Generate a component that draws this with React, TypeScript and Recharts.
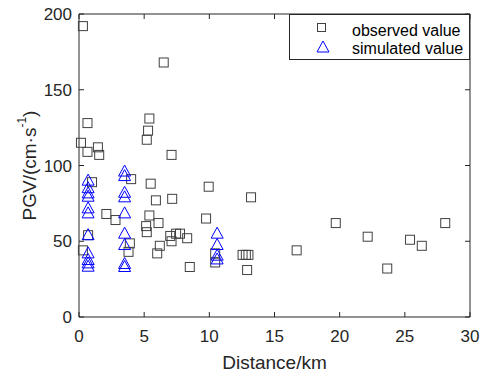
import React from 'react';
import { ScatterChart, Scatter, XAxis, YAxis, Legend, Label, ReferenceLine } from 'recharts';

// observed PGV (squares)
const observedDistance = [
  0.3, 0.15, 0.65, 0.65, 1.45, 1.55, 1.0, 0.7, 0.3, 2.1, 2.8, 4.0, 3.9, 3.8,
  5.2, 5.3, 5.4, 5.5, 5.4, 5.15, 5.2, 5.9, 6.1, 6.2, 6.0, 6.5, 7.1, 7.15, 7.0,
  7.1, 7.45, 7.75, 8.3, 8.5, 9.75, 9.95, 10.45, 10.45, 12.55, 12.8, 13.0, 12.9,
  13.2, 16.7, 19.7, 22.15, 23.65, 25.4, 26.3, 28.1,
];
const observedPGV = [
  192, 115, 128, 109, 112, 107, 89, 54, 44, 68, 64, 91, 48.6, 43,
  117, 123, 131, 88, 67, 60, 56, 77, 62, 47, 42, 168, 107, 78, 53.5,
  50, 55, 55, 52, 33, 65, 86, 42, 36, 41, 41, 41, 31,
  79, 44, 62, 53, 32, 51, 47, 62,
];

// simulated PGV (triangles)
const simulatedDistance = [
  0.7, 0.7, 0.7, 0.7, 0.7, 0.7, 0.7, 0.7, 0.7, 0.7, 0.7,
  3.5, 3.5, 3.5, 3.5, 3.5, 3.5, 3.5, 3.5, 3.5,
  10.6, 10.6, 10.6, 10.6,
];
const simulatedPGV = [
  90, 85, 81.6, 79.4, 71.7, 68.4, 54, 42, 37.6, 35.4, 33.2,
  96, 93, 82, 79, 68.4, 55, 47.5, 35, 33,
  55, 47.5, 40.5, 38,
];

const xTicks = [0, 5, 10, 15, 20, 25, 30];
const yTicks = [0, 50, 100, 150, 200];

const observed = observedDistance.map((x, i) => ({ x, y: observedPGV[i] }));
const simulated = simulatedDistance.map((x, i) => ({ x, y: simulatedPGV[i] }));

const FONT = '"Liberation Sans", Arial, Helvetica, sans-serif';
const AXIS = '#262626';
const TICK_LEN = 5;

const SquareDot = (props: any) => {
  const { cx, cy } = props;
  return (
    <rect x={cx - 4.5} y={cy - 4.5} width={9} height={9} fill="none" stroke="#404040" strokeWidth={1} />
  );
};

const TriangleDot = (props: any) => {
  const { cx, cy } = props;
  return (
    <polygon
      points={`${cx},${cy - 6.5} ${cx - 6},${cy + 4.5} ${cx + 6},${cy + 4.5}`}
      fill="none"
      stroke="#0000ff"
      strokeWidth={1}
    />
  );
};

// short inward tick marks at both ends of a reference line (MATLAB-style box ticks)
const EndTicks = (props: any) => {
  const { x1, y1, x2, y2 } = props;
  const len = Math.hypot(x2 - x1, y2 - y1) || 1;
  const dx = ((x2 - x1) / len) * TICK_LEN;
  const dy = ((y2 - y1) / len) * TICK_LEN;
  return (
    <g stroke={AXIS} strokeWidth={1}>
      <line x1={x1} y1={y1} x2={x1 + dx} y2={y1 + dy} />
      <line x1={x2} y1={y2} x2={x2 - dx} y2={y2 - dy} />
    </g>
  );
};

const renderYLabel = (props: any) => {
  const { viewBox } = props;
  const cx = viewBox.x + 29;
  const cy = viewBox.y + viewBox.height / 2;
  return (
    <text
      x={cx}
      y={cy}
      transform={`rotate(-90, ${cx}, ${cy})`}
      textAnchor="middle"
      dominantBaseline="central"
      fill={AXIS}
      fontSize={19}
      fontFamily={FONT}
    >
      PGV/(cm·s
      <tspan dy={-7} fontSize={12}>-1</tspan>
      <tspan dy={7}>)</tspan>
    </text>
  );
};

const renderXLabel = (props: any) => {
  const { viewBox } = props;
  return (
    <text
      x={viewBox.x + viewBox.width / 2}
      y={viewBox.y + 52}
      textAnchor="middle"
      fill={AXIS}
      fontSize={19}
      fontFamily={FONT}
    >
      Distance/km
    </text>
  );
};

const LegendBox = () => (
  <div
    style={{
      boxSizing: 'border-box',
      width: 181,
      height: 46,
      border: `1px solid ${AXIS}`,
      background: '#fff',
      fontFamily: FONT,
      fontSize: 16,
      color: '#000',
      position: 'relative',
    }}
  >
    <svg width={20} height={40} style={{ position: 'absolute', left: 24, top: 2 }}>
      <rect x={3.5} y={6.5} width={8} height={8} fill="none" stroke="#404040" />
      <polygon points="9,24 3,35 15,35" fill="none" stroke="#0000ff" />
    </svg>
    <div style={{ position: 'absolute', left: 62, top: 6, lineHeight: '19px' }}>observed value</div>
    <div style={{ position: 'absolute', left: 62, top: 24, lineHeight: '19px' }}>simulated value</div>
  </div>
);

export default function App() {
  return (
    <div style={{ position: 'absolute', left: 0, top: 0, width: 480, height: 373, background: '#fff' }}>
      <ScatterChart width={480} height={373} margin={{ top: 14, right: 10, bottom: 0, left: 0 }}>
        <XAxis
          type="number"
          dataKey="x"
          domain={[0, 30]}
          ticks={xTicks}
          height={56}
          tickLine={false}
          tickSize={0}
          tickMargin={13}
          stroke={AXIS}
          tick={{ fill: AXIS, fontSize: 17, fontFamily: FONT }}
        >
          <Label content={renderXLabel} />
        </XAxis>
        <YAxis
          type="number"
          dataKey="y"
          domain={[0, 200]}
          ticks={yTicks}
          width={79}
          tickLine={false}
          tickSize={0}
          tickMargin={7}
          stroke={AXIS}
          tick={{ fill: AXIS, fontSize: 17, fontFamily: FONT }}
        >
          <Label content={renderYLabel} />
        </YAxis>
        {/* top and right edges of the box */}
        <ReferenceLine y={200} stroke={AXIS} strokeWidth={1} />
        <ReferenceLine x={30} stroke={AXIS} strokeWidth={1} />
        {xTicks.map((t) => (
          <ReferenceLine key={`xt${t}`} x={t} shape={<EndTicks />} />
        ))}
        {yTicks.map((t) => (
          <ReferenceLine key={`yt${t}`} y={t} shape={<EndTicks />} />
        ))}
        <Legend
          layout="vertical"
          align="center"
          verticalAlign="middle"
          content={<LegendBox />}
          wrapperStyle={{ top: 14, left: 289, width: 181, height: 46 }}
        />
        <Scatter
          name="observed value"
          data={observed}
          shape={<SquareDot />}
          isAnimationActive={false}
        />
        <Scatter
          name="simulated value"
          data={simulated}
          shape={<TriangleDot />}
          isAnimationActive={false}
        />
      </ScatterChart>
    </div>
  );
}
